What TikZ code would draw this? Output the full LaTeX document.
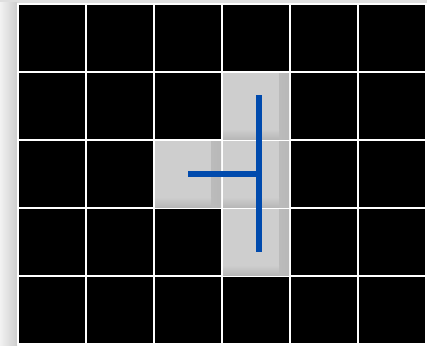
\documentclass[tikz,border=0pt]{standalone}
\usepackage{tikz}
\usetikzlibrary{positioning,calc}
\definecolor{bggray}{RGB}{242,242,242}
\definecolor{shadowgray}{RGB}{205,205,205}
\definecolor{cellgray}{RGB}{206,206,206}
\definecolor{edgegray}{RGB}{184,184,184}
\definecolor{pathblue}{RGB}{0,74,173}

\begin{document}
\begin{tikzpicture}[x=1pt, y=-1pt]
\tikzstyle{cell} = [rectangle, minimum width=66pt, minimum height=66pt, inner sep=0pt, outer sep=0pt, fill=black, anchor=north west]
\tikzstyle{open} = [cell, fill=cellgray, path picture={
  \shade[left color=cellgray, right color=edgegray] ($(path picture bounding box.north east)+(-10,0)$) rectangle (path picture bounding box.south east);
  \shade[top color=cellgray, bottom color=edgegray] ($(path picture bounding box.south west)+(0,-10)$) rectangle ($(path picture bounding box.south east)+(-10,0)$);}]
\tikzstyle{route} = [line width=5.5pt, draw=pathblue]

\useasboundingbox (0,0) rectangle (427,345);
\fill[bggray!92!black] (0,0) rectangle (427,3);
\shade[left color=bggray, right color=shadowgray] (0,3) rectangle (17,345);
\fill[white] (17,3) rectangle (427,345);

% maze cells
\foreach \i in {0,...,5}
  \foreach \j in {0,...,4}
    \node (C\i\j) [cell] at (19+68*\i, 5+68*\j) {};

% free cells
\foreach \i/\j in {3/1, 2/2, 3/2, 3/3}
  \node (G\i\j) [open] at (19+68*\i, 5+68*\j) {};

% path
\coordinate (RouteTop) at (259,95);
\coordinate (RouteEnd) at (259,252);
\draw [route] (G22.center) -- (RouteTop |- G22.center);
\draw [route] (RouteTop) -- (RouteEnd);
\end{tikzpicture}
\end{document}
